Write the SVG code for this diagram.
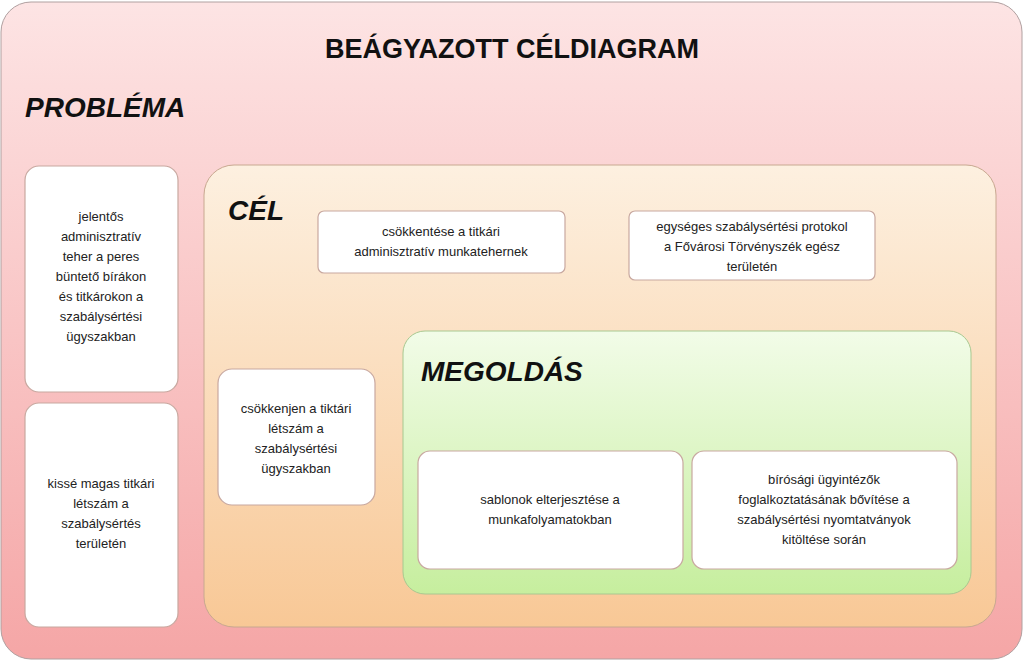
<svg xmlns="http://www.w3.org/2000/svg" width="1024" height="662" viewBox="0 0 1024 662">
<defs>
<linearGradient id="gOuter" x1="0" y1="0" x2="0" y2="1"><stop offset="0" stop-color="#fde4e4"/><stop offset="1" stop-color="#f5a6a6"/></linearGradient>
<linearGradient id="gCel" x1="0" y1="0" x2="0" y2="1"><stop offset="0" stop-color="#fdf0e0"/><stop offset="1" stop-color="#f8c896"/></linearGradient>
<linearGradient id="gMeg" x1="0" y1="0" x2="0" y2="1"><stop offset="0" stop-color="#f2fce8"/><stop offset="1" stop-color="#c6ee9e"/></linearGradient>
<style>
.box{fill:#fff;stroke:#c8a8a0;stroke-width:1.2}
.t{font-family:"Liberation Sans",Arial,sans-serif;font-size:13px;fill:#222;text-anchor:middle}
.h{font-family:"Liberation Sans",Arial,sans-serif;font-weight:bold;font-style:italic;font-size:28px;fill:#111}
</style>
</defs>
<rect x="1" y="2" width="1021" height="657" rx="30" fill="url(#gOuter)" stroke="#b0a0a0"/>
<text x="512" y="58" class="t" style="font-size:27px;font-weight:bold;fill:#111">BEÁGYAZOTT CÉLDIAGRAM</text>
<text x="25" y="117" class="h">PROBLÉMA</text>
<g id="cel"><rect x="204" y="165" width="792" height="462" rx="30" fill="url(#gCel)" stroke="#c8a890"/>
<text x="228" y="220" class="h">CÉL</text></g>
<g id="megoldas"><rect x="403" y="331" width="568" height="263" rx="22" fill="url(#gMeg)" stroke="#a8c890"/>
<text x="421" y="381" class="h">MEGOLDÁS</text></g>
<g id="p1"><rect class="box" x="25" y="166" width="153" height="226" rx="14"/>
<text class="t"><tspan x="101" y="221">jelentős</tspan><tspan x="101" y="241">adminisztratív</tspan><tspan x="101" y="261">teher a peres</tspan><tspan x="101" y="281">büntető bírákon</tspan><tspan x="101" y="301">és titkárokon a</tspan><tspan x="101" y="321">szabálysértési</tspan><tspan x="101" y="341">ügyszakban</tspan></text></g>
<g id="p2"><rect class="box" x="25" y="403" width="153" height="224" rx="14"/>
<text class="t"><tspan x="101" y="488">kissé magas titkári</tspan><tspan x="101" y="508">létszám a</tspan><tspan x="101" y="528">szabálysértés</tspan><tspan x="101" y="548">területén</tspan></text></g>
<g id="c1"><rect class="box" x="318" y="211" width="247" height="62" rx="6"/>
<text class="t"><tspan x="441" y="236">csökkentése a titkári</tspan><tspan x="441" y="256">adminisztratív munkatehernek</tspan></text></g>
<g id="c2"><rect class="box" x="629" y="211" width="246" height="69" rx="6"/>
<text class="t"><tspan x="752" y="231">egységes szabálysértési protokol</tspan><tspan x="752" y="251">a Fővárosi Törvényszék egész</tspan><tspan x="752" y="271">területén</tspan></text></g>
<g id="c3"><rect class="box" x="218" y="369" width="157" height="136" rx="14"/>
<text class="t"><tspan x="296" y="413">csökkenjen a tiktári</tspan><tspan x="296" y="433">létszám a</tspan><tspan x="296" y="453">szabálysértési</tspan><tspan x="296" y="473">ügyszakban</tspan></text></g>
<g id="m1"><rect class="box" x="418" y="451" width="265" height="118" rx="12"/>
<text class="t"><tspan x="550" y="504">sablonok elterjesztése a</tspan><tspan x="550" y="524">munkafolyamatokban</tspan></text></g>
<g id="m2"><rect class="box" x="692" y="451" width="265" height="118" rx="12"/>
<text class="t"><tspan x="824" y="484">bírósági ügyintézők</tspan><tspan x="824" y="504">foglalkoztatásának bővítése a</tspan><tspan x="824" y="524">szabálysértési nyomtatványok</tspan><tspan x="824" y="544">kitöltése során</tspan></text></g>
<g id="connectors"/>
</svg>
